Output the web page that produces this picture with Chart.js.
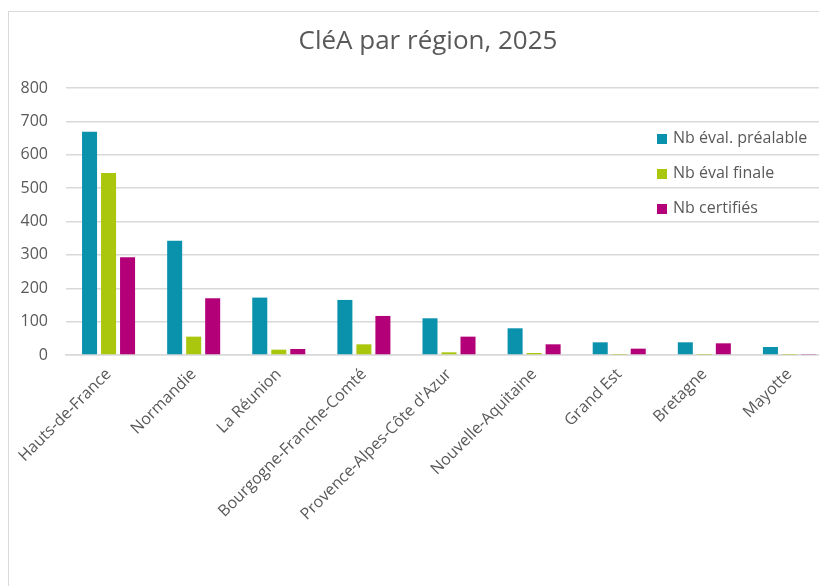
<!DOCTYPE html>
<html>
<head>
<meta charset="utf-8">
<script src="https://cdn.jsdelivr.net/npm/chart.js@4.4.1/dist/chart.umd.min.js"></script>
<style>
  html, body { margin: 0; padding: 0; background: #fff; overflow: hidden; width: 819px; height: 586px; }
  #wrap { position: absolute; left: 8px; top: 11px; width: 840px; height: 600px; border: 1px solid #d9d9d9; background: #fff; }
  #chartCleA { display: block; }
  .title { position: absolute; left: 0; width: 838px; top: 9px; text-align: center; font-family: 'Open Sans', sans-serif; font-size: 26px; color: #595959; line-height: 36px; }
  .legend { position: absolute; left: 648px; top: 108px; font-family: 'Open Sans', sans-serif; font-size: 16px; color: #595959; }
  .legend div { height: 35px; line-height: 34px; white-space: nowrap; }
  .legend span { display: inline-block; width: 10px; height: 10px; margin-right: 6px; vertical-align: -1px; }
</style>
</head>
<body>
<div id="wrap">
  <canvas id="chartCleA" width="838" height="600"></canvas>
  <div class="title">CléA par région, 2025</div>
  <div class="legend" id="legend"></div>
</div>
<script>
const regions = ['Hauts-de-France', 'Normandie', 'La Réunion', 'Bourgogne-Franche-Comté',
  "Provence-Alpes-Côte d'Azur", 'Nouvelle-Aquitaine', 'Grand Est', 'Bretagne', 'Mayotte'];
const evalPrealable = [669, 342, 172, 165, 110, 80, 38, 38, 24];
const evalFinale = [545, 55, 16, 32, 8, 6, 1, 1, 1];
const certifies = [293, 170, 18, 117, 55, 32, 19, 35, 3];
const yTicks = [0, 100, 200, 300, 400, 500, 600, 700, 800];

const seriesNames = ['Nb éval. préalable', 'Nb éval finale', 'Nb certifiés'];
const seriesColors = ['#0A92AD', '#AAC70E', '#B30078'];
const textColor = '#595959';

let ctx = document.getElementById('chartCleA').getContext('2d');

let dataSets = [evalPrealable, evalFinale, certifies].map((values, i) => ({
  label: seriesNames[i],
  data: values,
  backgroundColor: seriesColors[i],
  borderWidth: 0,
  categoryPercentage: 0.67,
  barPercentage: 0.79
}));

new Chart(ctx, {
  type: 'bar',
  data: {
    labels: regions,
    datasets: dataSets
  },
  options: {
    responsive: false,
    animation: false,
    // plot runs past the right edge of the window, as in the cropped original
    layout: { padding: { left: 0, right: 15, top: 76, bottom: 0 } },
    plugins: {
      legend: { display: false },
      tooltip: { enabled: false },
      title: { display: false }
    },
    scales: {
      x: {
        grid: { display: false },
        border: { color: '#d9d9d9', width: 1.5 },
        ticks: {
          color: textColor,
          font: { family: 'Open Sans', size: 16 },
          minRotation: 45,
          maxRotation: 45,
          autoSkip: false,
          padding: 2
        },
        afterFit: (scale) => { scale.height = 257; }
      },
      y: {
        min: 0,
        max: 800,
        afterBuildTicks: (scale) => { scale.ticks = yTicks.map(v => ({ value: v })); },
        grid: { color: '#d9d9d9', lineWidth: 1.5, drawTicks: false },
        border: { display: false },
        ticks: {
          color: textColor,
          font: { family: 'Open Sans', size: 16 },
          padding: 18
        },
        afterFit: (scale) => { scale.width = 57; }
      }
    }
  }
});

// legend drawn over the plot area, like the original
document.getElementById('legend').innerHTML = seriesNames.map((name, i) =>
  `<div><span style="background:${seriesColors[i]}"></span>${name}</div>`).join('');
</script>
</body>
</html>
